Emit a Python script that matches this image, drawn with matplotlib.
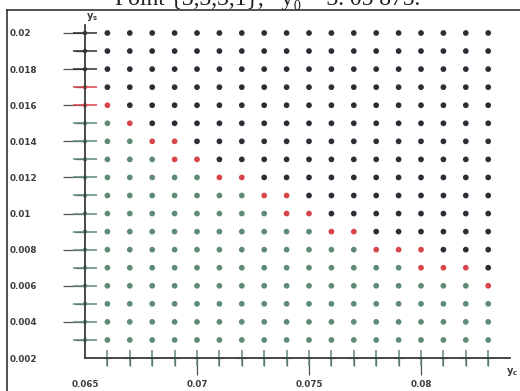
import numpy as np
import matplotlib
matplotlib.use("Agg")
import matplotlib.pyplot as plt
from matplotlib.ticker import FixedLocator
from matplotlib.lines import Line2D

# Grid of parameter values (y_c along x, y_s along y)
yc_values = [0.065, 0.066, 0.067, 0.068, 0.069, 0.070, 0.071, 0.072, 0.073, 0.074,
             0.075, 0.076, 0.077, 0.078, 0.079, 0.080, 0.081, 0.082, 0.083]
ys_values = [0.002, 0.003, 0.004, 0.005, 0.006, 0.007, 0.008, 0.009, 0.010, 0.011,
             0.012, 0.013, 0.014, 0.015, 0.016, 0.017, 0.018, 0.019, 0.020]

# Transition band for every y_c column (lowest and highest y_s marked red)
band_low = [0.016, 0.016, 0.015, 0.014, 0.013, 0.013, 0.012, 0.012, 0.011, 0.010,
            0.010, 0.009, 0.009, 0.008, 0.008, 0.007, 0.007, 0.007, 0.006]
band_high = [0.017, 0.016, 0.015, 0.014, 0.014, 0.013, 0.012, 0.012, 0.011, 0.011,
             0.010, 0.009, 0.009, 0.008, 0.008, 0.008, 0.007, 0.007, 0.006]

x_ticks_major = [0.065, 0.07, 0.075, 0.08]
x_tick_labels = ["0.065", "0.07", "0.075", "0.08"]
y_ticks_major = [0.002, 0.004, 0.006, 0.008, 0.01, 0.012, 0.014, 0.016, 0.018, 0.02]
y_tick_labels = ["0.002", "0.004", "0.006", "0.008", "0.01", "0.012", "0.014",
                 "0.016", "0.018", "0.02"]

title_text = "Point {3,3,3,1},   y\u2080 = 3. 05 875."

COL_ABOVE = "#2c2d35"
COL_BAND = "#d8444a"
COL_BELOW = "#5e8b74"

W, H = 520, 391
fig = plt.figure(figsize=(W / 100, H / 100), dpi=100)
ax = fig.add_axes([0, 0, 1, 1])
ax.patch.set_alpha(0)

# 22.4 px per 0.001 horizontally, ~18.06 px per 0.001 vertically
ax.set_xlim(0.065 - 85 / 22400, 0.065 + 435 / 22400)
ax.set_ylim(0.002 - 33 / 18055.6, 0.002 + 358 / 18055.6)

# Classify each grid point
X, Y, C = [], [], []
for i, xc in enumerate(yc_values):
    lo, hi = round(band_low[i] * 1000), round(band_high[i] * 1000)
    for ys in ys_values:
        k = round(ys * 1000)
        if k > hi:
            col = COL_ABOVE
        elif k >= lo:
            col = COL_BAND
        else:
            col = COL_BELOW
        X.append(xc)
        Y.append(ys)
        C.append(col)
X, Y = np.array(X), np.array(Y)
C = np.array(C)

x0, y0 = yc_values[0], ys_values[0]
on_yaxis = np.isclose(X, x0)
on_xaxis = np.isclose(Y, y0)
inner = ~on_yaxis & ~on_xaxis

ax.scatter(X[inner], Y[inner], s=17, c=C[inner], linewidths=0, zorder=3)

# Points that fall on the axes are drawn as cross marks
m = on_yaxis & ~on_xaxis
ax.scatter(X[m], Y[m], s=17.3 ** 2, c=C[m], marker="_", linewidths=1.1, zorder=3)
ax.scatter(X[m], Y[m], s=10, c=C[m], linewidths=0, zorder=3)
m = on_xaxis & ~on_yaxis
ax.scatter(X[m], Y[m], s=11 ** 2, c=C[m], marker="|", linewidths=1.1, zorder=3)
ax.scatter(X[m], Y[m], s=40, c=C[m], marker="_", linewidths=0.8, zorder=3)

# Axes crossing at (0.065, 0.002)
for side in ("top", "right"):
    ax.spines[side].set_visible(False)
ax.spines["left"].set_position(("data", x0))
ax.spines["bottom"].set_position(("data", y0))
ax.spines["left"].set_bounds(y0, 0.002 + 333 / 18055.6)
ax.spines["bottom"].set_bounds(x0, 0.065 + 425 / 22400)
for side in ("left", "bottom"):
    ax.spines[side].set_color("#3a3a3a")
    ax.spines[side].set_linewidth(1.3)
    ax.spines[side].set_zorder(4)

ax.xaxis.set_major_locator(FixedLocator(x_ticks_major))
ax.xaxis.set_minor_locator(FixedLocator(yc_values))
ax.yaxis.set_major_locator(FixedLocator(y_ticks_major))
ax.yaxis.set_minor_locator(FixedLocator(ys_values))
ax.set_xticklabels(x_tick_labels)
ax.set_yticklabels(y_tick_labels)

lab_font = dict(family="DejaVu Sans", weight="bold", size=6.3)
ax.tick_params(axis="y", which="major", direction="out", length=16, width=0.9,
               color="#555555", pad=38, labelcolor="#3c3c3c")
ax.tick_params(axis="y", which="minor", direction="out", length=7.5, width=0.9,
               color="#555555")
ax.tick_params(axis="x", which="major", direction="out", length=12.5, width=0.9,
               color="#555555", pad=3, labelcolor="#3c3c3c")
ax.tick_params(axis="x", which="minor", direction="out", length=6, width=0.9,
               color="#555555")
for lab in ax.get_yticklabels():
    lab.set_fontproperties(lab_font)
    lab.set_horizontalalignment("left")
for lab in ax.get_xticklabels():
    lab.set_fontproperties(lab_font)

# No tick marks at the origin, only its labels
ax.yaxis.get_major_ticks()[0].tick1line.set_visible(False)
ax.xaxis.get_major_ticks()[0].tick1line.set_visible(False)

# Axis names
ax.text(92 / W, 1 - 17 / H, r"$\mathbf{y_s}$", transform=ax.transAxes,
        ha="center", va="center", fontsize=7, color="#3c3c3c")
ax.text(512 / W, 1 - 372 / H, r"$\mathbf{y_c}$", transform=ax.transAxes,
        ha="center", va="center", fontsize=7, color="#3c3c3c")

# Surrounding frame and heading
fig.add_artist(Line2D([7 / W, 7 / W], [0, 1 - 10 / H], transform=fig.transFigure,
                      color="#333333", linewidth=1.2))
fig.add_artist(Line2D([7 / W, 1], [1 - 10 / H, 1 - 10 / H], transform=fig.transFigure,
                      color="#333333", linewidth=1.2))
fig.text(268 / W, 1 - 5 / H, title_text, ha="center", va="baseline",
         fontsize=17, family=["Liberation Serif", "DejaVu Serif"], color="#222222")

fig.savefig("out.png", dpi=100)
